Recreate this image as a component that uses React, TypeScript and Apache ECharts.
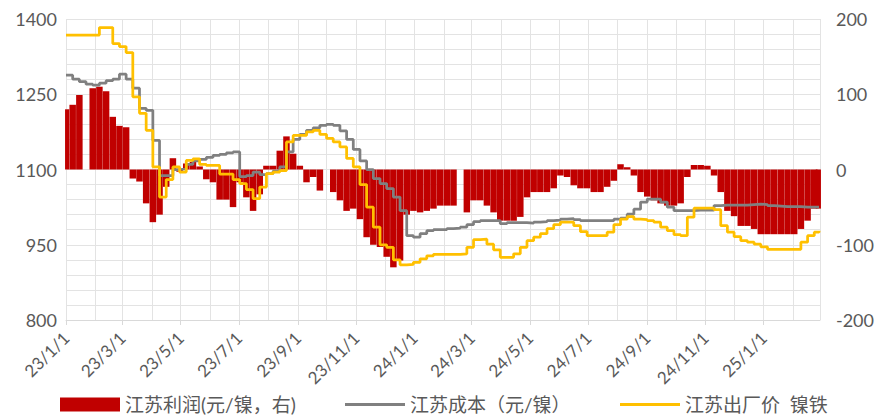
import React, { useEffect, useRef } from "react";
import * as echarts from "echarts";

// x range: daily categories from 2023-01-01 to 2025-03-01
const START_YEAR = 2023;
const DAY_COUNT = 791;
// sample days (weekly from 2023-01-01, last = 2025-02-28), as day offsets
const SAMPLE_STEP = 7;
const LAST_SAMPLE = 789;

// 江苏利润 (元/镍, right axis)
const profit = [
  80, 86, 99, 0, 108, 110, 104, 70, 58, 56,
  -12, -16, -45, -70, -60, -23, 15, -3, 8, 10,
  4, -13, -17, -40, -40, -50, -17, -37, -55, -33,
  5, 5, 25, 44, 21, 5, -17, -10, -28, 0,
  -30, -41, -55, -52, -66, -90, -100, -103, -116, -130,
  -121, -60, -55, -57, -55, -52, -48, -48, -48, 0,
  -57, -41, -41, -48, -57, -68, -68, -68, -63, -37,
  -30, -30, -30, -25, -8, -10, -21, -25, -25, -30,
  -30, -23, -15, 7, 3, -8, -30, -36, -41, -45,
  -48, -48, -45, -10, 6, 6, 5, -8, -30, -55,
  -62, -75, -75, -79, -86, -86, -86, -86, -86, -86,
  -79, -68, -52, -52,
];

// 江苏成本 (元/镍)
const cost = [
  1288, 1280, 1275, 1270, 1268, 1272, 1277, 1280, 1290, 1280,
  1262, 1222, 1218, 1158, 1088, 1088, 1100, 1101, 1110, 1117,
  1120, 1124, 1128, 1130, 1133, 1135, 1086, 1088, 1095, 1090,
  1092, 1097, 1105, 1135, 1160, 1170, 1178, 1183, 1188, 1190,
  1188, 1177, 1160, 1140, 1117, 1100, 1082, 1072, 1062, 1045,
  1018, 968, 965, 972, 978, 980, 980, 982, 983, 985,
  990, 996, 998, 998, 998, 992, 994, 994, 994, 993,
  995, 996, 998, 999, 1001, 1002, 1000, 998, 998, 998,
  998, 998, 1001, 1003, 1011, 1021, 1035, 1041, 1041, 1035,
  1025, 1018, 1018, 1018, 1019, 1019, 1019, 1028, 1029, 1029,
  1029, 1029, 1030, 1031, 1030, 1028, 1027, 1026, 1026, 1026,
  1025, 1025, 1025, 1025,
];

// 江苏出厂价 镍铁
const price = [
  1368, 1368, 1368, 1368, 1368, 1383, 1383, 1351, 1345, 1333,
  1245, 1212, 1178, 1105, 1045, 1080, 1105, 1095, 1118, 1121,
  1110, 1108, 1108, 1091, 1091, 1080, 1072, 1060, 1042, 1065,
  1092, 1095, 1098, 1155, 1168, 1168, 1175, 1178, 1170, 1162,
  1155, 1145, 1122, 1105, 1070, 1025, 985, 950, 945, 920,
  910, 911, 915, 922, 928, 931, 931, 931, 931, 932,
  945, 960, 961, 951, 940, 925, 925, 932, 945, 958,
  965, 972, 982, 990, 995, 995, 988, 976, 968, 968,
  968, 975, 990, 1001, 1006, 1001, 1000, 998, 995, 985,
  978, 970, 968, 1005, 1023, 1023, 1023, 1020, 988, 975,
  966, 958, 955, 951, 946, 941, 941, 941, 941, 941,
  955, 968, 975, 978,
];

const seriesNames = ["江苏利润(元/镍，右)", "江苏成本（元/镍）", "江苏出厂价  镍铁"];
const leftTicks = { min: 800, max: 1400, interval: 150 };
const rightTicks = { min: -200, max: 200, interval: 100 };

function buildDays(): string[] {
  const out: string[] = [];
  for (let i = 0; i < DAY_COUNT; i++) {
    const d = new Date(Date.UTC(START_YEAR, 0, 1 + i));
    out.push(d.toISOString().slice(0, 10));
  }
  return out;
}

function buildSampleDays(): number[] {
  const out: number[] = [];
  for (let d = 0; d < LAST_SAMPLE; d += SAMPLE_STEP) out.push(d);
  out.push(LAST_SAMPLE);
  return out;
}

const FONT = "Lato, 'Noto Sans CJK SC', sans-serif";
const TEXT = "#595959";
const GRID = "#E3E3E3";
const LINE_ICON = "path://M0,0 L60,0 L60,3 L0,3 Z";

export default function App() {
  const ref = useRef<HTMLDivElement>(null);
  useEffect(() => {
    document.body.style.margin = "0";
    if (!ref.current) return;
    const chart = echarts.init(ref.current, null, { renderer: "svg" });
    const days = buildDays();
    const samples = buildSampleDays();
    const isLabelDay = (index: number, value: string) => {
      const parts = value.split("-");
      return parts[2] === "01" && Number(parts[1]) % 2 === 1 && index < DAY_COUNT - 1;
    };
    const isMonthStart = (_i: number, value: string) => value.slice(8) === "01";
    const legendBase = {
      top: 395,
      padding: 0,
      itemWidth: 60,
      itemHeight: 14,
      itemGap: 5,
      textStyle: { fontFamily: FONT, fontSize: 19, lineHeight: 19, color: TEXT },
      selectedMode: false,
    };
    chart.setOption({
      animation: false,
      textStyle: { fontFamily: FONT },
      grid: { left: 66, right: 53, top: 19, height: 301, containLabel: false },
      legend: [
        { ...legendBase, left: 60, data: [{ name: seriesNames[0], icon: "rect" }] },
        { ...legendBase, left: 345, data: [{ name: seriesNames[1], icon: LINE_ICON }] },
        { ...legendBase, left: 620, data: [{ name: seriesNames[2], icon: LINE_ICON }] },
      ],
      xAxis: {
        type: "category",
        data: days,
        boundaryGap: false,
        axisLine: { onZero: false, lineStyle: { color: "#D9D9D9", width: 1 } },
        axisTick: { show: true, interval: isLabelDay, length: 5, lineStyle: { color: "#D9D9D9" } },
        axisLabel: {
          interval: isLabelDay,
          rotate: 45,
          margin: 15,
          fontSize: 17,
          color: TEXT,
          fontFamily: FONT,
          formatter: (v: string) => {
            const [y, m, d] = v.split("-");
            return `${y.slice(2)}/${Number(m)}/${Number(d)}`;
          },
        },
        splitLine: { show: true, interval: isMonthStart, lineStyle: { color: GRID, width: 1 } },
      },
      yAxis: [
        {
          type: "value",
          ...leftTicks,
          axisLine: { show: false },
          axisTick: { show: false },
          axisLabel: { fontSize: 18, color: TEXT, margin: 9, fontFamily: FONT, formatter: (v: number) => String(v) },
          splitLine: { show: true, lineStyle: { color: GRID, width: 1 } },
          minorTick: { show: false, splitNumber: 5 },
          minorSplitLine: { show: true, lineStyle: { color: GRID, width: 1 } },
        },
        {
          type: "value",
          ...rightTicks,
          axisLine: { show: false },
          axisTick: { show: false },
          axisLabel: { fontSize: 18, color: TEXT, margin: 16, fontFamily: FONT, formatter: (v: number) => String(v) },
          splitLine: { show: false },
        },
      ],
      series: [
        {
          name: seriesNames[0],
          type: "bar",
          yAxisIndex: 1,
          barWidth: 6.5,
          itemStyle: { color: "#C00000" },
          data: samples.map((d, i) => [d, profit[i]]),
          z: 1,
        },
        {
          name: seriesNames[1],
          type: "line",
          step: "end",
          symbol: "none",
          lineStyle: { color: "#808080", width: 2.75 },
          itemStyle: { color: "#808080" },
          data: samples.map((d, i) => [d, cost[i]]),
          z: 2,
        },
        {
          name: seriesNames[2],
          type: "line",
          step: "end",
          symbol: "none",
          lineStyle: { color: "#FFC000", width: 2.75 },
          itemStyle: { color: "#FFC000" },
          data: samples.map((d, i) => [d, price[i]]),
          z: 3,
        },
      ],
    });
    return () => chart.dispose();
  }, []);
  return <div ref={ref} style={{ width: 877, height: 416, overflow: "hidden" }} />;
}
